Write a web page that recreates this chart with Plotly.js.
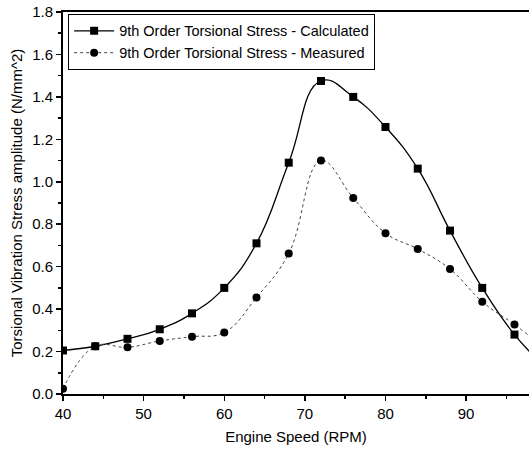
<!DOCTYPE html>
<html><head><meta charset="utf-8">
<script src="https://cdn.plot.ly/plotly-3.0.1.min.js"></script>
<style>html,body{margin:0;padding:0;background:#fff}#c{width:529px;height:450px}</style>
</head><body><div id="c"></div>
<script>
const speed = [40,44,48,52,56,60,64,68,72,76,80,84,88,92,96,100];
const calculated = [0.205,0.225,0.26,0.305,0.38,0.50,0.71,1.09,1.475,1.40,1.258,1.062,0.77,0.50,0.28,0.12];
const measured = [0.025,0.225,0.22,0.25,0.27,0.29,0.455,0.662,1.10,0.924,0.758,0.683,0.589,0.435,0.327,0.21];
const names = ['9th Order Torsional Stress - Calculated','9th Order Torsional Stress - Measured'];
const fam = 'Liberation Sans, Arial, sans-serif';
const traces = [
 {x:speed, y:calculated, name:names[0], mode:'lines+markers', line:{color:'#000', width:1.3, shape:'spline', smoothing:1.3}, marker:{symbol:'square', size:8, color:'#000'}},
 {x:speed, y:measured, name:names[1], mode:'lines+markers', line:{color:'#444', width:1, dash:'dot', shape:'spline', smoothing:1.2}, marker:{symbol:'circle', size:8, color:'#000'}}
];
const layout = {
 width:529, height:450, margin:{l:63, r:0, t:12, b:56},
 paper_bgcolor:'#fff', plot_bgcolor:'#fff', font:{family:fam, size:14.5, color:'#000'}, showlegend:true,
 xaxis:{range:[40,97.8], dtick:10, tick0:40, showgrid:false, zeroline:false, showline:true, linewidth:2, linecolor:'#000', mirror:true,
   ticks:'outside', ticklen:5, tickwidth:1.5, tickcolor:'#000', minor:{dtick:5, ticks:'outside', ticklen:3, tickcolor:'#000'},
   tickfont:{family:fam, size:15}, title:{text:'Engine Speed (RPM)', font:{family:fam, size:15}, standoff:10}},
 yaxis:{range:[0,1.8], dtick:0.2, tickformat:'.1f', showgrid:false, zeroline:false, showline:true, linewidth:2, linecolor:'#000',
   ticks:'outside', ticklen:5, tickwidth:1.5, tickcolor:'#000', minor:{dtick:0.1, ticks:'outside', ticklen:3, tickcolor:'#000'},
   tickfont:{family:fam, size:15}, title:{text:'Torsional Vibration Stress amplitude (N/mm^2)', font:{family:fam, size:15}, standoff:6}},
 legend:{x:0.011, y:0.995, xanchor:'left', yanchor:'top', bgcolor:'#fff', bordercolor:'#000', borderwidth:1, font:{family:fam, size:14.5}, tracegroupgap:0, itemwidth:40}
};
Plotly.newPlot('c', traces, layout, {staticPlot:true, displayModeBar:false});
</script></body></html>
